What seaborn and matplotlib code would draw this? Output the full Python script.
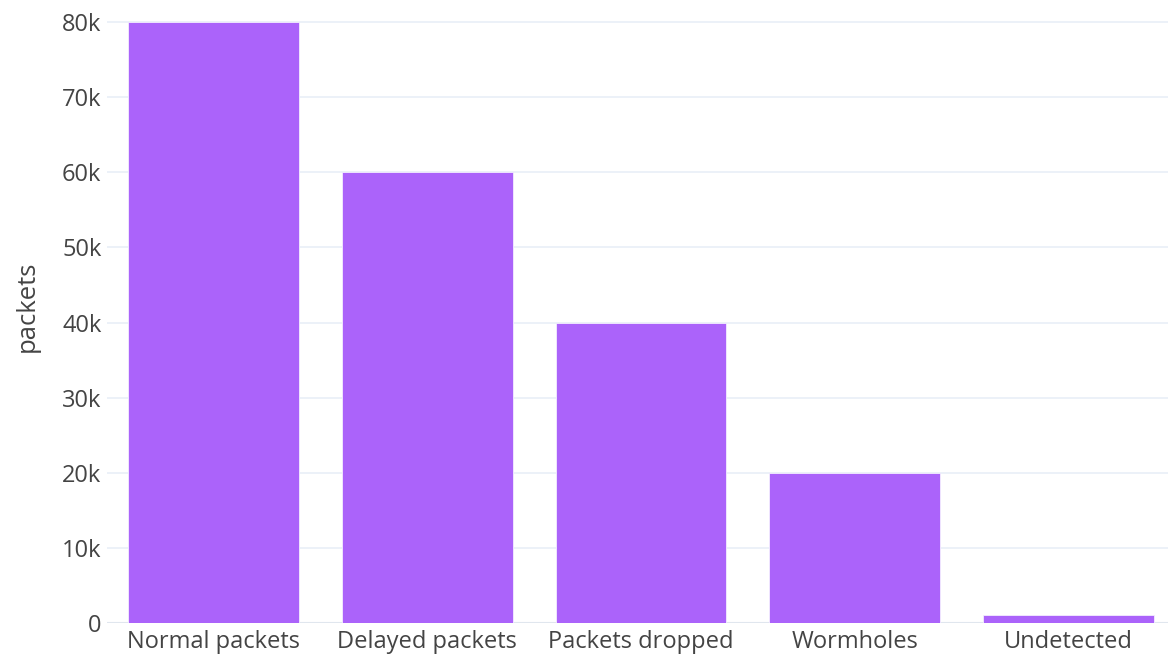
import matplotlib
matplotlib.use("Agg")
import matplotlib.pyplot as plt
import seaborn as sns
import pandas as pd
from matplotlib.ticker import FuncFormatter

categories = ["Normal packets", "Delayed packets", "Packets dropped", "Wormholes", "Undetected"]
packets = [80000, 60000, 40000, 20000, 1000]
y_ticks = [0, 10000, 20000, 30000, 40000, 50000, 60000, 70000, 80000]

df = pd.DataFrame({"category": categories, "packets": packets})

sns.set_theme(style="white")
plt.rcParams["font.family"] = ["Open Sans", "DejaVu Sans"]

W, H = 1168, 657
fig = plt.figure(figsize=(W / 100, H / 100), dpi=100)
# axes placed in pixel terms; the plot area runs slightly past the right and top edges
left_px, right_px = 107, 1175
zero_px, top_px = 623, -9.6
ax = fig.add_axes([left_px / W, (H - zero_px) / H, (right_px - left_px) / W, (zero_px - top_px) / H])

sns.barplot(data=df, x="category", y="packets", color="#AB63FA", saturation=1,
            width=0.8, ax=ax, zorder=2, edgecolor="#F4EEFF", linewidth=0.6)

ax.set_xlim(-0.5, 4.5)
ax.set_ylim(0, 84210)
ax.set_yticks(y_ticks)
ax.yaxis.set_major_formatter(FuncFormatter(lambda v, p: "0" if v == 0 else f"{int(v/1000)}k"))
ax.grid(axis="y", color="#EBF0F8", linewidth=1.3, zorder=0)
ax.axhline(0, color="#E0E6EE", linewidth=1.5, zorder=1)
for s in ax.spines.values():
    s.set_visible(False)

ax.tick_params(axis="both", length=0, labelsize=17, labelcolor="#444444")
ax.tick_params(axis="y", pad=4)
ax.tick_params(axis="x", pad=5)
ax.set_xlabel("")
ax.set_ylabel("packets", fontsize=18.5, color="#444444", labelpad=16)

fig.savefig("out.png", dpi=100, facecolor="white")
